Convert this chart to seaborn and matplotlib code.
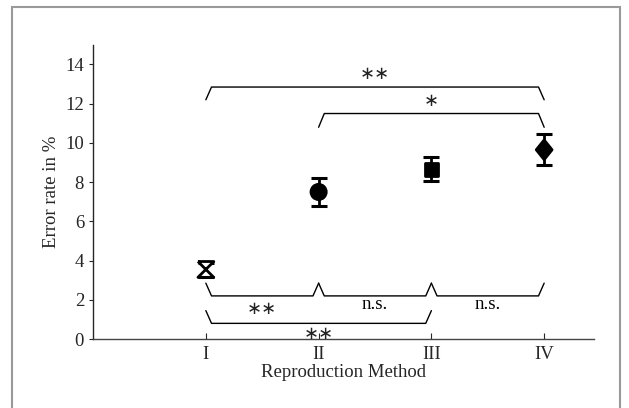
import numpy as np
import pandas as pd
import matplotlib
matplotlib.use("Agg")
import matplotlib.pyplot as plt
from matplotlib.markers import MarkerStyle
from matplotlib.patches import Rectangle
import seaborn as sns

# Data
methods = ["I", "II", "III", "IV"]
error_mean = [3.55, 7.5, 8.65, 9.65]
error_low = [3.18, 6.8, 8.05, 8.85]
error_high = [3.9, 8.2, 9.27, 10.45]

# significance comparisons
comp_from = ["I", "II", "I", "II", "III", "I"]
comp_to = ["IV", "IV", "II", "III", "IV", "III"]
comp_label = ["∗∗", "∗", "∗∗", "n.s.", "n.s.", "∗∗"]

sns.set_style("ticks")
plt.rcParams["font.family"] = ["Liberation Serif", "DejaVu Serif"]
plt.rcParams["font.size"] = 13.5

df = pd.DataFrame({"method": methods, "mean": error_mean,
                   "low": error_low, "high": error_high})
df["x"] = np.arange(1, len(methods) + 1)
pos = dict(zip(methods, df["x"]))

fig = plt.figure(figsize=(6.29, 4.08), dpi=100)
ax = fig.add_axes([0.148, 0.169, 0.796, 0.721])

# error bars
ax.errorbar(df["x"], df["mean"],
            yerr=[df["mean"] - df["low"], df["high"] - df["mean"]],
            fmt="none", ecolor="black", elinewidth=2, capsize=5.5, capthick=2.2, zorder=2)

hourglass = MarkerStyle([(-0.5, 0.5), (0.5, 0.5), (-0.5, -0.5), (0.5, -0.5), (-0.5, 0.5)])
diamond = MarkerStyle([(0, 0.62), (0.5, 0), (0, -0.62), (-0.5, 0), (0, 0.62)])
sns.scatterplot(data=df, x="x", y="mean", hue="method", style="method", size="method",
                palette={"I": "white", "II": "black", "III": "black", "IV": "black"},
                markers={"I": hourglass, "II": "o", "III": "s", "IV": diamond},
                sizes={"I": 130, "II": 120, "III": 95, "IV": 200},
                edgecolor="black", linewidth=2, legend=False, ax=ax, zorder=3)

# significance brackets: (end height, bar height, text height)
upper = {("I", "IV"): (12.2, 12.85, 13.5), ("II", "IV"): (10.8, 11.5, 12.15)}
lower = {("I", "II"): (2.85, 2.2, 1.55), ("II", "III"): (2.85, 2.2, 1.75),
         ("III", "IV"): (2.85, 2.2, 1.75), ("I", "III"): (1.45, 0.8, 0.25)}
inset = 0.05
for a, b, lab in zip(comp_from, comp_to, comp_label):
    end_y, bar_y, txt_y = upper.get((a, b), lower.get((a, b)))
    xa, xb = pos[a], pos[b]
    ax.plot([xa, xa + inset, xb - inset, xb], [end_y, bar_y, bar_y, end_y],
            color="black", lw=1, zorder=1)
    star = "∗" in lab
    ax.text((xa + xb) / 2, txt_y, lab, ha="center", va="center",
            fontsize=13 if star else 13.5, color="#222222" if star else "black",
            family=["DejaVu Sans"] if star else ["Liberation Serif"])

ax.set_xlim(0, 4.44)
ax.set_ylim(0, 15)
ax.set_xticks(df["x"])
ax.set_xticklabels(methods)
ax.set_yticks(range(0, 15, 2))
ax.tick_params(axis="x", direction="in", length=4, width=0.8, labelsize=13.5, pad=5)
ax.tick_params(axis="y", direction="out", length=3, width=0.8, labelsize=13.5)
ax.set_xlabel("Reproduction Method", fontsize=13.5, labelpad=1)
ax.set_ylabel("Error rate in %", fontsize=13.5)
sns.despine(ax=ax)
ax.spines["left"].set_linewidth(1)
ax.spines["bottom"].set_linewidth(1)
ax.spines["bottom"].set_color("#444444")

# grey frame round the figure
fig.patches.append(Rectangle((12 / 629, -0.05), 608 / 629, 1.05 - 7 / 408,
                             transform=fig.transFigure, fill=False,
                             edgecolor="#999999", lw=1.5))

fig.savefig("out.png", dpi=100)
